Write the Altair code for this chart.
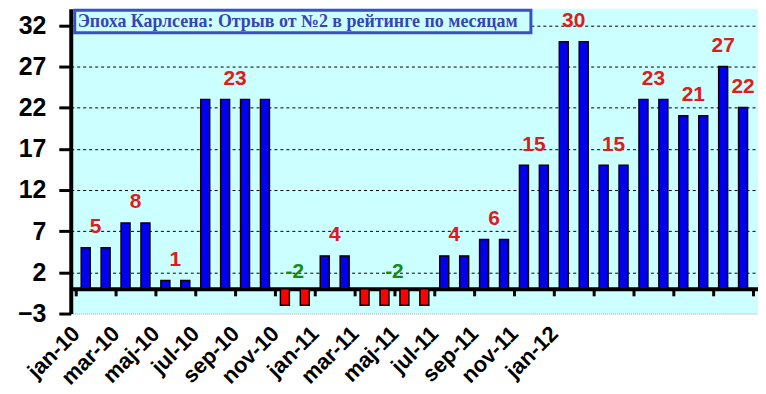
import altair as alt
import pandas as pd

months = ["jan-10", "feb-10", "mar-10", "apr-10", "maj-10", "jun-10", "jul-10", "aug-10",
          "sep-10", "okt-10", "nov-10", "dec-10", "jan-11", "feb-11", "mar-11", "apr-11",
          "maj-11", "jun-11", "jul-11", "aug-11", "sep-11", "okt-11", "nov-11", "dec-11",
          "jan-12", "feb-12", "mar-12", "apr-12", "maj-12", "jun-12", "jul-12", "aug-12",
          "sep-12", "okt-12"]
values = [5, 5, 8, 8, 1, 1, 23, 23, 23, 23, -2, -2, 4, 4, -2, -2, -2, -2, 4, 4,
          6, 6, 15, 15, 30, 30, 15, 15, 23, 23, 21, 21, 27, 22]
x_tick_labels = ["jan-10", "mar-10", "maj-10", "jul-10", "sep-10", "nov-10", "jan-11",
                 "mar-11", "maj-11", "jul-11", "sep-11", "nov-11", "jan-12"]
y_ticks = [-3, 2, 7, 12, 17, 22, 27, 32]
label_values = [5, 8, 1, 23, -2, 4, -2, 4, 6, 15, 30, 15, 23, 21, 27, 22]
label_first = [0, 2, 4, 6, 10, 12, 14, 18, 20, 22, 24, 26, 28, 30, 32, 33]
label_count = [2, 2, 2, 4, 2, 2, 4, 2, 2, 2, 2, 2, 2, 2, 1, 1]
title_text = "Эпоха Карлсена: Отрыв от №2 в рейтинге по месяцам"

W, H = 690, 306
YMIN, YMAX = -3, 34
XMAX = len(months)

bars = pd.DataFrame({"month": months, "value": values,
                     "pos": [i + 0.5 for i in range(len(months))]})
labels = pd.DataFrame({
    "txt": [str(v) for v in label_values],
    "v": label_values,
    "cx": [f + c / 2 for f, c in zip(label_first, label_count)],
    "ly": [v + 2.5 if v > 0 else 2 for v in label_values],
})
title_df = pd.DataFrame({"t": [title_text]})

zero_px = H * (YMAX - 0) / (YMAX - YMIN)
x_offset = -(H - zero_px)

xs = alt.Scale(domain=[0, XMAX], nice=False, zero=False)
ys = alt.Scale(domain=[YMIN, YMAX], nice=False, zero=False)

lab_arr = "[" + ",".join("'" + s + "'" for s in x_tick_labels) + "]"
x_axis = alt.Axis(
    values=list(range(0, XMAX + 1, 2)),
    labelExpr=f"datum.value/2 < {len(x_tick_labels)} ? {lab_arr}[datum.value/2] : ''",
    labelAngle=315, labelAlign="right", labelBaseline="middle",
    labelFontSize=22, labelFont="Liberation Sans", labelFontWeight="bold",
    labelColor="black", labelPadding=34, labelOffset=0,
    labelOverlap=False, labelFlush=False, labelBound=False,
    tickSize=7, tickWidth=3, tickColor="black",
    domainColor="black", domainWidth=4, offset=x_offset,
    grid=False, title=None,
)
y_axis = alt.Axis(
    values=y_ticks, labelFontSize=25, labelFont="Liberation Sans",
    labelFontWeight="bold", labelColor="black", labelPadding=13,
    tickSize=12, tickWidth=3, tickColor="black",
    domainColor="black", domainWidth=4,
    grid=True, gridWidth=1,
    gridColor={"condition": {"test": "datum.value == -3", "value": "#9a9a9a"}, "value": "black"},
    gridDash={"condition": {"test": "datum.value == -3", "value": [1, 1]}, "value": [3, 3]},
    title=None, labelOverlap=False, labelFlush=False,
)

bar_layer = alt.Chart(bars).mark_bar(orient="vertical", size=9, stroke="black",
                                     strokeWidth=1.5).encode(
    x=alt.X("pos:Q", scale=xs, axis=x_axis),
    y=alt.Y("value:Q", scale=ys, axis=y_axis),
    color=alt.condition("datum.value > 0", alt.value("#0000ee"), alt.value("#ff0000")),
)

text_layer = alt.Chart(labels).mark_text(
    font="Liberation Sans", fontSize=21, fontWeight="bold", baseline="middle", align="center"
).encode(
    x=alt.X("cx:Q", scale=xs, title=None),
    y=alt.Y("ly:Q", scale=ys, title=None),
    text="txt:N",
    color=alt.condition("datum.v > 0", alt.value("#e01b1b"), alt.value("#178a17")),
)

box_layer = alt.Chart(title_df).mark_rect(
    fill="#ccffff", stroke="#3a4fc8", strokeWidth=3
).encode(
    x=alt.value(4), x2=alt.value(462), y=alt.value(1.5), y2=alt.value(24),
)

title_layer = alt.Chart(title_df).mark_text(
    font="Liberation Serif", fontSize=18, fontWeight="bold", color="#3644b4",
    align="left", baseline="middle"
).encode(
    x=alt.value(7), y=alt.value(13), text="t:N",
)

chart = alt.layer(bar_layer, text_layer, box_layer, title_layer).properties(
    width=W, height=H,
    autosize=alt.AutoSizeParams(type="none"),
    padding={"left": 63, "top": 0, "right": 0, "bottom": 78},
).configure_view(fill="#ccffff", stroke=None)

chart.save("out.html", embed_options={"renderer": "svg", "actions": False})
